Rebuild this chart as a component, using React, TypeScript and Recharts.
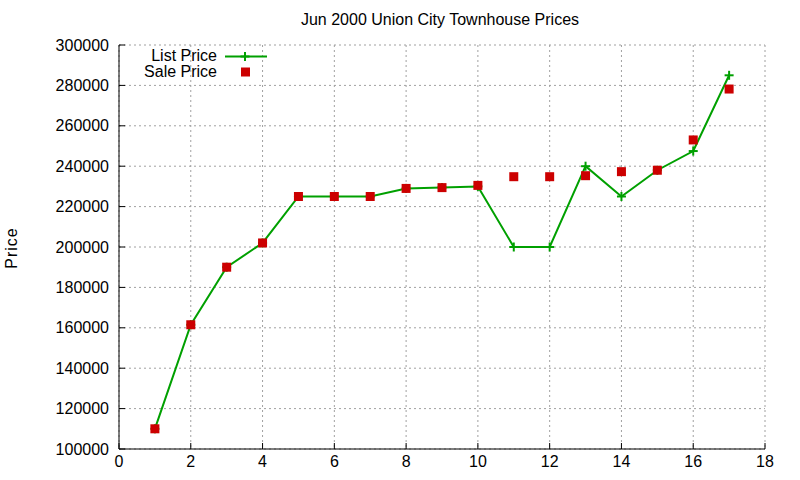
import { CartesianGrid, ComposedChart, Line, Scatter, XAxis, YAxis } from 'recharts'

const months = [1, 2, 3, 4, 5, 6, 7, 8, 9, 10, 11, 12, 13, 14, 15, 16, 17]
const listPrice = [
  110000, 161500, 190000, 202000, 225000, 225000, 225000, 229000, 229500, 230000, 200000, 200000,
  240000, 225000, 238000, 247500, 285000,
]
const salePrice = [
  110000, 161500, 190000, 202000, 225000, 225000, 225000, 229000, 229400, 230500, 234800, 234800,
  235300, 237300, 238000, 253000, 278200,
]
const xTicks = [0, 2, 4, 6, 8, 10, 12, 14, 16, 18]
const yTicks = [100000, 120000, 140000, 160000, 180000, 200000, 220000, 240000, 260000, 280000, 300000]

const title = 'Jun 2000 Union City Townhouse Prices'
const listName = 'List Price'
const saleName = 'Sale Price'

const data = months.map((m, i) => ({ x: m, list: listPrice[i], sale: salePrice[i] }))

const green = '#00a000'
const red = '#cc0000'
const font = '"Liberation Sans", Arial, sans-serif'
const tickStyle = { fontSize: 16, fill: '#000', fontFamily: font }

function Plus({ cx, cy }: { cx?: number; cy?: number }) {
  if (cx == null || cy == null) return null
  return (
    <g>
      <line x1={cx - 4.5} x2={cx + 4.5} y1={cy} y2={cy} stroke={green} strokeWidth={2} />
      <line x1={cx} x2={cx} y1={cy - 4.5} y2={cy + 4.5} stroke={green} strokeWidth={2} />
    </g>
  )
}

function Square({ cx, cy }: { cx?: number; cy?: number }) {
  if (cx == null || cy == null) return null
  return <rect x={cx - 4.5} y={cy - 4.5} width={9} height={9} fill={red} />
}

// key box in the top-left corner, drawn over the chart
function LegendBox() {
  return (
    <svg width={280} height={40} style={{ position: 'absolute', left: 0, top: 45, display: 'block' }}>
      <text x={217} y={10.5} textAnchor="end" dominantBaseline="central" fontSize={16} fontFamily={font}>
        {listName}
      </text>
      <line x1={225} x2={267} y1={11.5} y2={11.5} stroke={green} strokeWidth={2} />
      <Plus cx={245} cy={11.5} />
      <text x={217} y={26} textAnchor="end" dominantBaseline="central" fontSize={16} fontFamily={font}>
        {saleName}
      </text>
      <Square cx={245.5} cy={27} />
    </svg>
  )
}

export default function App() {
  return (
    <div style={{ position: 'absolute', left: 0, top: 0, width: 800, height: 480, background: '#fff', fontFamily: font }}>
      <div
        style={{
          position: 'absolute',
          left: 440,
          top: 11,
          transform: 'translateX(-50%)',
          fontSize: 16,
          lineHeight: '18px',
          whiteSpace: 'nowrap',
        }}
      >
        {title}
      </div>
      <div
        style={{
          position: 'absolute',
          left: 12,
          top: 248,
          transform: 'translate(-50%, -50%) rotate(-90deg)',
          fontSize: 16,
          letterSpacing: 1,
          lineHeight: '18px',
        }}
      >
        Price
      </div>
      <ComposedChart width={800} height={480} data={data} margin={{ top: 45, right: 35, bottom: 0, left: 0 }}>
        <CartesianGrid stroke="#a0a0a0" strokeDasharray="2 3" />
        <XAxis
          dataKey="x"
          type="number"
          domain={[0, 18]}
          ticks={xTicks}
          interval={0}
          height={31}
          tickSize={-6}
          tickMargin={13}
          tick={tickStyle}
          axisLine={{ stroke: '#000' }}
          tickLine={{ stroke: '#000' }}
        />
        <XAxis
          xAxisId="top"
          orientation="top"
          type="number"
          domain={[0, 18]}
          ticks={xTicks}
          interval={0}
          height={0}
          tickSize={-6}
          tick={false}
          axisLine={{ stroke: '#000' }}
          tickLine={{ stroke: '#000' }}
        />
        <YAxis
          type="number"
          domain={[100000, 300000]}
          ticks={yTicks}
          interval={0}
          width={119}
          tickSize={-6}
          tickMargin={16}
          tick={tickStyle}
          axisLine={{ stroke: '#000' }}
          tickLine={{ stroke: '#000' }}
        />
        <YAxis
          yAxisId="right"
          orientation="right"
          type="number"
          domain={[100000, 300000]}
          ticks={yTicks}
          interval={0}
          width={0}
          tickSize={-6}
          tick={false}
          axisLine={{ stroke: '#000' }}
          tickLine={{ stroke: '#000' }}
        />
        <Line
          type="linear"
          dataKey="list"
          name={listName}
          stroke={green}
          strokeWidth={2}
          dot={(p: any) => <Plus key={p.index} cx={p.cx} cy={p.cy} />}
          activeDot={false}
          isAnimationActive={false}
        />
        <Scatter
          dataKey="sale"
          name={saleName}
          fill={red}
          shape={(p: any) => <Square cx={p.cx} cy={p.cy} />}
          isAnimationActive={false}
        />
      </ComposedChart>
      <LegendBox />
    </div>
  )
}
